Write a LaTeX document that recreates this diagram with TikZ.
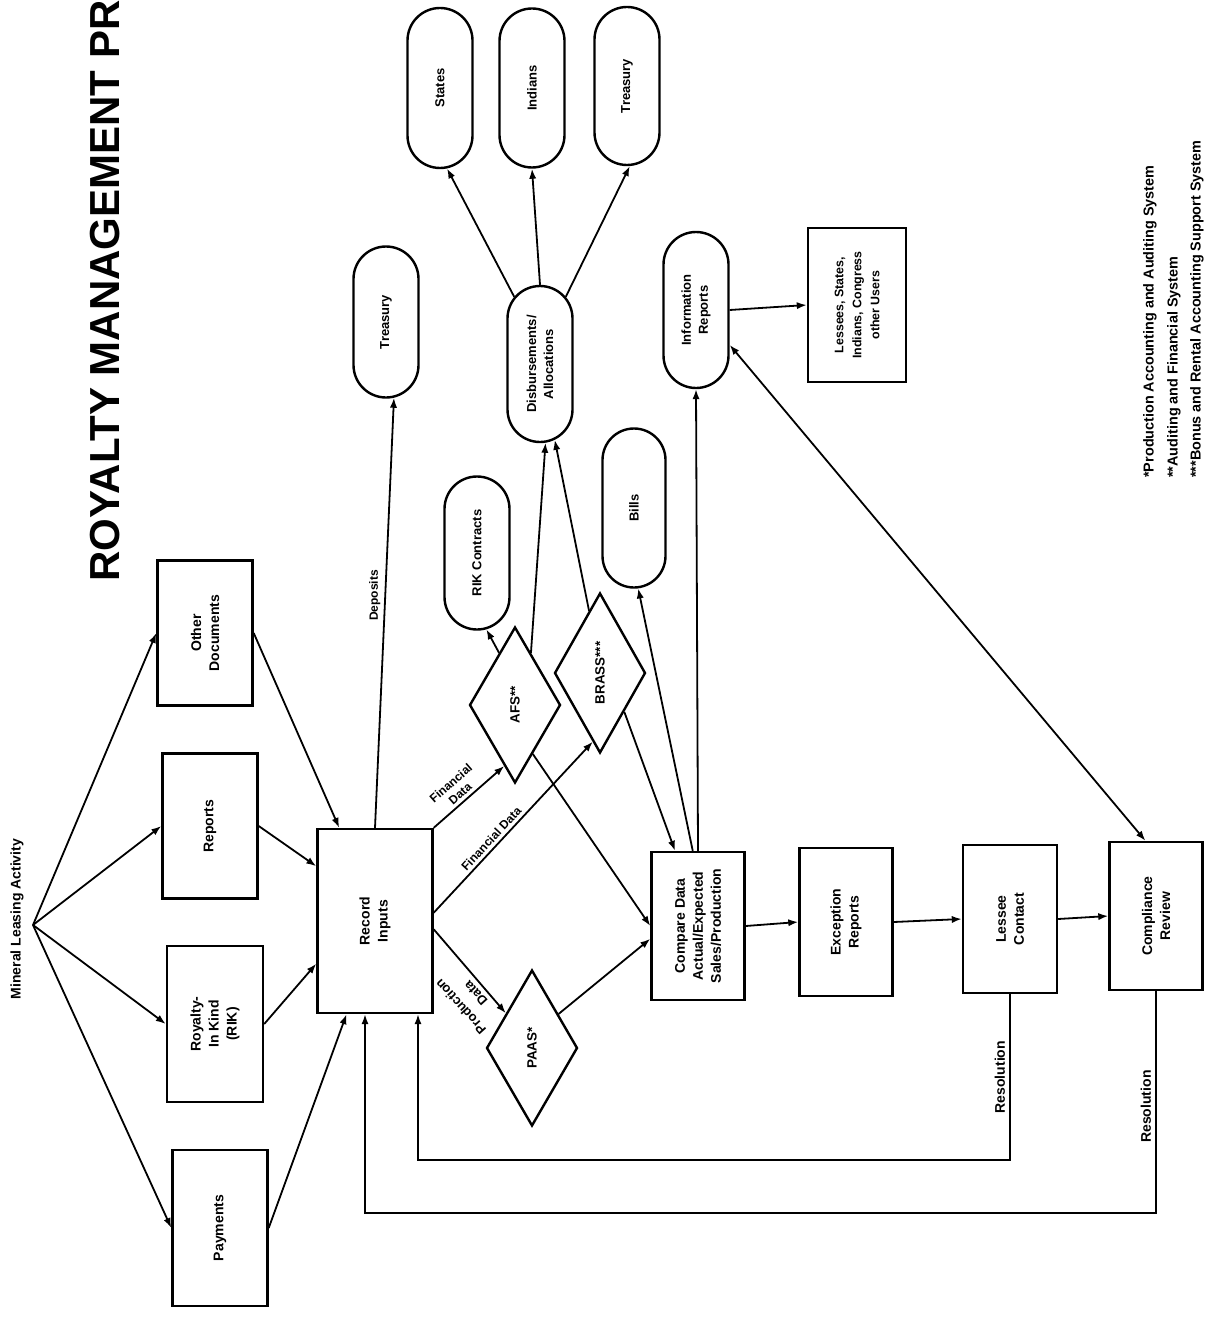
\documentclass[tikz,border=0pt]{standalone}
\usepackage{fontspec}
\setmainfont{Liberation Sans}
\usetikzlibrary{arrows.meta,shapes.geometric,shapes.misc}

\begin{document}
\begin{tikzpicture}[x=0.5pt, y=-0.5pt,
    box/.style={rectangle, draw, line width=1.2pt, rotate=90, inner sep=1pt, align=center,
                minimum width=74pt, minimum height=47pt, font=\bfseries\fontsize{7}{9}\selectfont},
    pill/.style={rounded rectangle, draw, line width=1.2pt, rotate=90, inner xsep=0pt, inner ysep=1pt,
                align=center, minimum width=78pt, minimum height=32.5pt,
                font=\bfseries\fontsize{6.5}{8.5}\selectfont},
    dia/.style={diamond, draw, line width=1.2pt, rotate=90, inner sep=0pt,
                minimum width=78pt, minimum height=45.5pt, font=\bfseries\fontsize{6.7}{8}\selectfont},
    vlbl/.style={rotate=90, inner sep=2pt, font=\bfseries\fontsize{6}{7}\selectfont},
    lbl/.style={inner sep=1.5pt, align=center, font=\bfseries\fontsize{6}{7}\selectfont},
    fn/.style={rotate=90, anchor=west, inner sep=0pt, font=\bfseries\fontsize{7.2}{8}\selectfont},
    arr/.style={-{Latex[length=5pt,width=3.6pt]}, line width=0.9pt},
    dbl/.style={{Latex[length=5pt,width=3.6pt]}-{Latex[length=5pt,width=3.6pt]}, line width=0.9pt}
  ]
  \useasboundingbox (0,0) rectangle (1204,1321);

  % title and source
  \node[rotate=90, anchor=east, inner sep=0pt, font=\bfseries\fontsize{21}{21}\selectfont]
    (title) at (105, 0) {ROYALTY MANAGEMENT PR};
  \node[vlbl, font=\bfseries\fontsize{7}{8}\selectfont] (mla) at (17, 919) {Mineral Leasing Activity};
  \coordinate (src) at (33, 925);

  % input documents
  \node[box, minimum width=72.5pt, minimum height=47.5pt] (odoc) at (205, 633) {Other\\Documents};
  \node[box, minimum width=72.5pt, minimum height=47.5pt] (rep) at (210, 826) {Reports};
  \node[box, minimum width=78pt, minimum height=48pt] (rik) at (215, 1024) {Royalty-\\In Kind\\(RIK)};
  \node[box, minimum width=78pt, minimum height=47.5pt] (pay) at (220, 1228) {Payments};
  \node[box, minimum width=92pt, minimum height=57.5pt] (rec) at (375, 921) {Record\\Inputs};

  % systems
  \node[dia] (afs) at (515, 705) {AFS**};
  \node[dia, minimum width=80pt] (brass) at (600, 673) {BRASS***};
  \node[dia] (paas) at (532, 1048) {PAAS*};

  % outputs
  \node[pill, minimum width=75.5pt] (trsA) at (386, 322) {Treasury};
  \node[pill, minimum width=76.5pt] (rikc) at (477, 553) {RIK Contracts};
  \node[pill] (disb) at (540, 364) {Disbursements/\\Allocations};
  \node[pill, minimum width=80pt] (states) at (440, 88) {States};
  \node[pill, minimum width=79.5pt] (indians) at (532, 88) {Indians};
  \node[pill, minimum width=79pt] (trsB) at (627, 86) {Treasury};
  \node[pill, minimum width=79.5pt, minimum height=31.5pt] (bills) at (634, 508) {Bills};
  \node[pill] (info) at (696, 310) {Information\\Reports};
  \node[box, minimum width=77pt, minimum height=49pt, font=\bfseries\fontsize{6.2}{9}\selectfont]
    (users) at (857, 305) {Lessees, States,\\Indians, Congress\\other Users};

  % comparison chain
  \node[box, minimum height=46.5pt] (cmp) at (698, 926) {Compare Data\\Actual/Expected\\Sales/Production};
  \node[box, minimum height=46.5pt] (exc) at (846, 922) {Exception\\Reports};
  \node[box] (les) at (1010, 919) {Lessee\\Contact};
  \node[box, minimum height=46.5pt] (comp) at (1156, 916) {Compliance\\Review};
  \coordinate (loopA) at (418, 1160);
  \coordinate (loopB) at (365, 1213);

  % footnotes
  \node[fn] (fn1) at (1150, 478) {*Production Accounting and Auditing System};
  \node[fn] (fn2) at (1174, 478) {**Auditing and Financial System};
  \node[fn] (fn3) at (1197, 478) {***Bonus and Rental Accounting Support System};

  % connectors
  \foreach \n in {odoc,rep,rik,pay}
    \draw[arr] (src) -- (\n.north);
  \draw[arr] (odoc.south) -- (rec.21);
  \draw[arr] (rep.south) -- (rec.47);
  \draw[arr] (rik.south) -- (rec.126);
  \draw[arr] (pay.south) -- (rec.163);

  \draw[arr] (rec.east) -- node[vlbl, anchor=south, pos=0.54] (dep) {Deposits} (trsA.186);
  \draw[arr] (rec.south east) -- node[lbl, sloped, above, pos=0.45] (fd1) {Financial\\Data} (afs.170);
  \draw[arr] (rec.-82) -- node[lbl, sloped, above, pos=0.4] (fd2) {Financial Data} (brass.174);
  \draw[arr] (rec.-98) -- (paas.37);
  \node[lbl, rotate=132, font=\bfseries\fontsize{6.5}{10}\selectfont] (pd) at (468, 1000) {Production\\Data};

  \draw[arr] (afs.17) -- (rikc.187);
  \draw[arr] (afs.-17) -- (disb.184);
  \draw[arr] (brass.10) -- (disb.191);
  \draw[arr] (afs.-160) -- (cmp.north);
  \draw[arr] (brass.-148) -- (cmp.17);
  \draw[arr] (paas.-38) -- (cmp.105);

  \draw[arr] (disb.21) -- (states.185);
  \draw[arr] (disb.east) -- (indians.west);
  \draw[arr] (disb.-21) -- (trsB.182);

  \draw[arr] (cmp.4) -- (bills.183);
  \draw[arr] (cmp.east) -- (info.west);
  \draw[arr] (cmp.south) -- (exc.north);
  \draw[arr] (exc.south) -- (les.north);
  \draw[arr] (les.south) -- (comp.north);
  \draw[arr] (info.south) -- (users.north);
  \draw[dbl] (info.-136) -- (comp.8);

  \draw[arr] (les.west) |- node[vlbl, anchor=south, pos=0.25, font=\bfseries\fontsize{7}{8}\selectfont]
    (res1) {Resolution} (loopA) -- (loopA |- rec.west);
  \draw[arr] (comp.west) |- node[vlbl, anchor=south, pos=0.26, font=\bfseries\fontsize{7}{8}\selectfont]
    (res2) {Resolution} (loopB) -- (loopB |- rec.west);
\end{tikzpicture}
\end{document}
